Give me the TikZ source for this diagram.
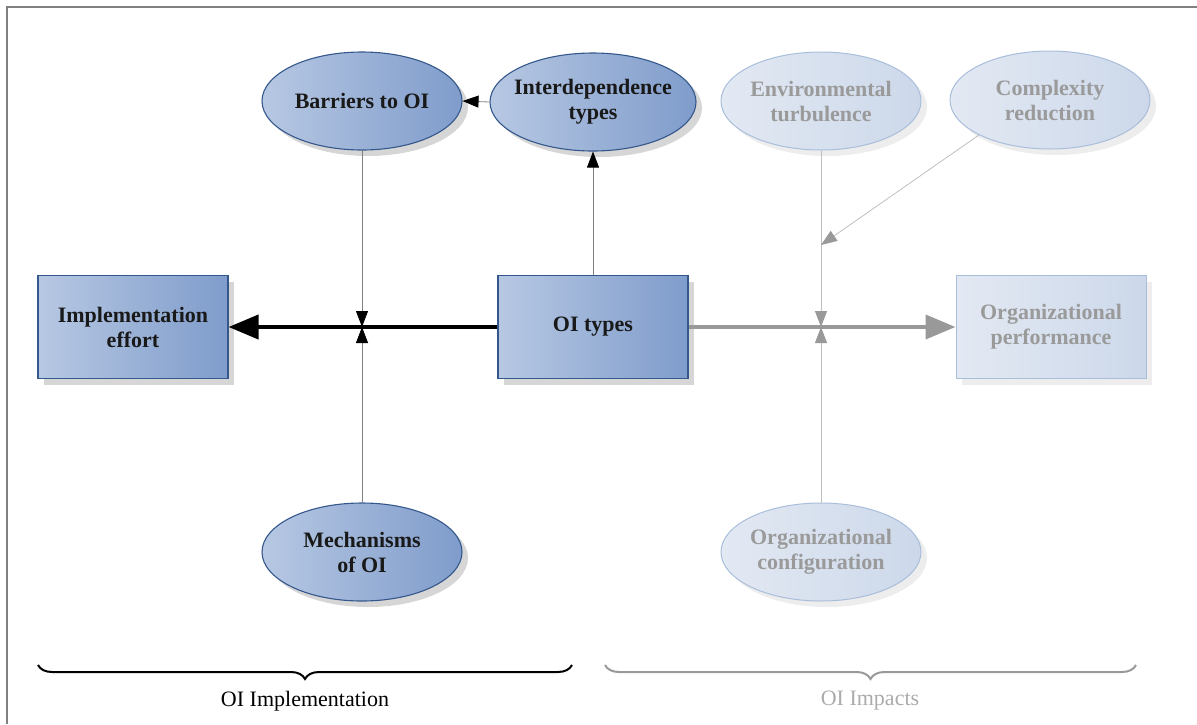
\documentclass[tikz,border=0pt]{standalone}
\usepackage{fontspec}
\setmainfont{Liberation Serif}
\usetikzlibrary{arrows.meta,shadows,shapes.geometric,decorations.pathreplacing}

\definecolor{blueL}{HTML}{B7C8E3}
\definecolor{blueD}{HTML}{7F9CCB}
\definecolor{blueB}{HTML}{34578C}
\definecolor{paleL}{HTML}{E3E9F3}
\definecolor{paleD}{HTML}{CCD8EA}
\definecolor{paleB}{HTML}{A9BEDB}
\definecolor{paleT}{HTML}{9A9A9A}
\definecolor{frameC}{HTML}{808080}

\begin{document}
\begin{tikzpicture}[x=1pt,y=-1pt,
  lbl/.style={align=center, font=\fontsize{22}{25}\selectfont\bfseries},
  strong/.style={lbl, left color=blueL, right color=blueD, draw=blueB, line width=1.1pt,
    text=black!90, drop shadow={shadow xshift=6pt, shadow yshift=-6pt, fill=black!16, opacity=1}},
  faded/.style={lbl, left color=paleL, right color=paleD, draw=paleB, line width=1pt,
    text=paleT, drop shadow={shadow xshift=6pt, shadow yshift=-6pt, fill=black!7, opacity=1}},
  oval/.style={ellipse, minimum width=200pt, minimum height=98pt, inner sep=-30pt},
  box/.style={rectangle, minimum width=190pt, minimum height=103pt, inner sep=0pt},
  mainarrow/.style={line width=4pt, -{Triangle[length=30pt, width=24pt]}},
  thinarrow/.style={line width=0.8pt, draw=black!50, -{Triangle[length=16pt, width=12pt, color=black]}},
  palearrow/.style={line width=0.8pt, draw=black!25, -{Triangle[length=16pt, width=12pt, color=black!40]}},
  group/.style={decorate, decoration={brace, amplitude=14pt}, line width=2pt},
]
\useasboundingbox (0,0) rectangle (1197,724);

% frame
\draw[frameC, line width=1.5pt] (1197,7) -- (7,7) -- (7,724);

% implementation side
\node[strong, oval] (bar) at (362,101) {Barriers to OI};
\node[strong, oval, minimum width=206pt] (int) at (593,102) {Interdependence\\types};
\node[strong, box] (impl) at (133,327) {Implementation\\effort};
\node[strong, box] (oit) at (593,327) {OI types};
\node[strong, oval] (mech) at (362,552) {Mechanisms\\of OI};

% impact side
\node[faded, oval] (env) at (821,101) {Environmental\\turbulence};
\node[faded, oval] (cpx) at (1050,100) {Complexity\\reduction};
\node[faded, box] (perf) at (1051,327) {Organizational\\performance};
\node[faded, oval] (conf) at (821,552) {Organizational\\configuration};

% connectors
\draw[mainarrow] (oit.west) -- (impl.east);
\draw[mainarrow, draw=black!40] (oit.east) -- (perf.west);

\coordinate (xl) at (bar.south |- oit.west);
\coordinate (xr) at (env.south |- oit.east);
\coordinate (cj) at (821,245);

\draw[thinarrow] (bar.south) -- (xl);
\draw[thinarrow] (mech.north) -- (xl);
\draw[thinarrow] (oit.north) -- (int.south);
\draw[thinarrow] (int.west) -- (bar.east);

\draw[palearrow] (env.south) -- (xr);
\draw[palearrow] (conf.north) -- (xr);
\draw[palearrow] (cpx.south west) -- (cj);

% group braces
\coordinate (g1a) at (572,665);
\coordinate (g1b) at (38,665);
\coordinate (g2a) at (1136,665);
\coordinate (g2b) at (605,665);
\draw[group, black] (g1a) -- (g1b);
\draw[group, black!40] (g2a) -- (g2b);

\node[font=\fontsize{22}{24}\selectfont] (t1) at (305,701) {OI Implementation};
\node[font=\fontsize{22}{24}\selectfont, text=black!33] (t2) at (870,701) {OI Impacts};
\end{tikzpicture}
\end{document}
